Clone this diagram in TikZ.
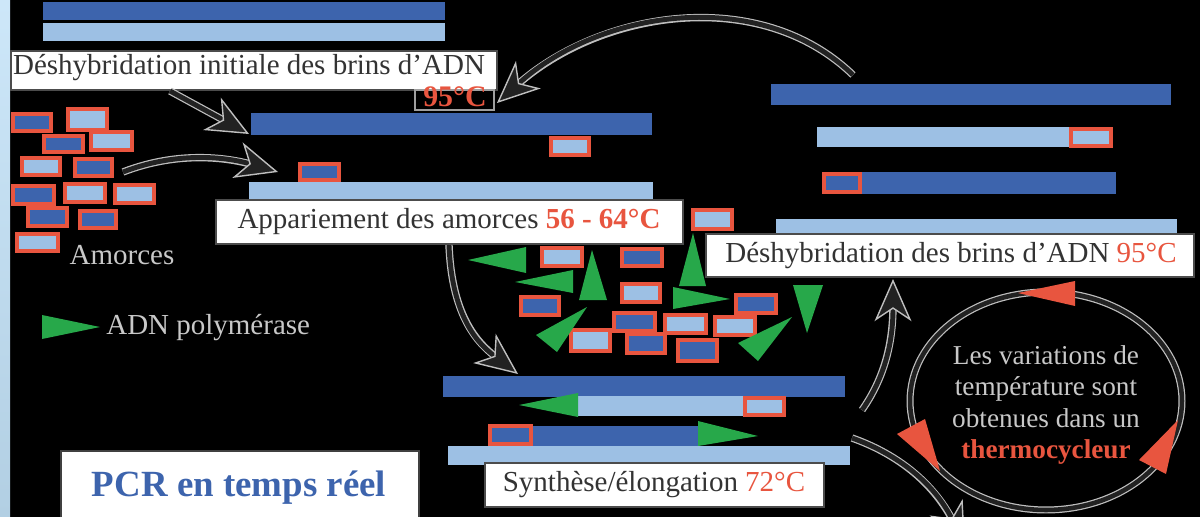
\documentclass[tikz,border=0pt]{standalone}
\usepackage{fontspec}
\setmainfont{Liberation Serif}
\usetikzlibrary{arrows.meta,fit}
\definecolor{dblue}{HTML}{3D64AD}
\definecolor{lblue}{HTML}{9DC0E4}
\definecolor{pred}{HTML}{E8553F}
\definecolor{pgreen}{HTML}{27A84A}
\definecolor{ltxt}{HTML}{333333}
\definecolor{gtxt}{HTML}{C8C8C8}
\definecolor{stripT}{HTML}{CDE7F9}
\definecolor{stripB}{HTML}{B2CFE3}
\definecolor{arrcore}{HTML}{222222}
\newcommand\myprimer[5]{\filldraw[fill=#5, draw=pred, line width=2.5pt] (#1+2.2,#2+2.2) rectangle (#3-2.2,#4-2.2);}
\newcommand\mytri[3]{\fill[pgreen] #1 -- #2 -- #3 -- cycle;}
\begin{document}
\begin{tikzpicture}[x=0.02cm,y=-0.02cm,
  dstrand/.style={fill=dblue, draw=none, inner sep=0pt, outer sep=0pt},
  lstrand/.style={fill=lblue, draw=none, inner sep=0pt, outer sep=0pt},
  labbox/.style={fill=white, draw=black!70, line width=1.4pt, inner sep=0pt},
  labtxt/.style={font=\fontsize{16.5}{19}\selectfont, text=ltxt, inner sep=0pt},
  grtxt/.style={font=\fontsize{16.5}{19}\selectfont, text=gtxt, inner sep=0pt},
  arr/.style={line width=2.8pt, draw=arrcore,
    -{Stealth[length=24pt,width=21pt,inset=7pt,fill=arrcore,color=gray!50,line width=0.8pt]},
    preaction={-, draw=gray!50, line width=4.2pt, shorten >=14pt}},
  redtip/.style={fill=pred, draw=none}
]
\useasboundingbox (0,0) rectangle (1200,517);
\fill[black] (0,0) rectangle (1200,517);
\shade[top color=stripT, bottom color=stripB] (0,0) rectangle (10,517);

% top strands
\node[dstrand, fit={(43,2)(445,20)}] (s0d) {};
\node[lstrand, fit={(43,23)(445,41)}] (s0l) {};

% label 1
\node[labbox, fit={(11,51)(497,90)}] (l1) {};
\node[labtxt] at (249,68) {Déshybridation initiale des brins d'ADN};
\node[fill=black, draw=gray!75, line width=1pt, inner sep=0pt, fit={(415,90)(494,110)}] (t1) {};
\node[font=\fontsize{17}{19}\selectfont\bfseries, text=pred, inner sep=0pt] at (455,97) {95°C};

% strand pair 1
\node[dstrand, fit={(251,113)(652,135)}] (s1d) {};
\myprimer{549}{136}{591}{157}{lblue}
\myprimer{298}{162}{341}{182}{dblue}
\node[lstrand, fit={(249,182)(653,199)}] (s1l) {};

% label 2
\node[labbox, fit={(216,200)(683,244)}] (l2) {};
\node[labtxt] at (449,222) {Appariement des amorces \textcolor{pred}{\bfseries 56 - 64°C}};

% left primers
\myprimer{11}{112}{53}{133}{dblue}
\myprimer{66}{107}{109}{132}{lblue}
\myprimer{89}{130}{134}{152}{lblue}
\myprimer{42}{134}{85}{154}{dblue}
\myprimer{20}{156}{62}{177}{lblue}
\myprimer{73}{157}{114}{178}{dblue}
\myprimer{11}{184}{56}{206}{dblue}
\myprimer{63}{182}{107}{204}{lblue}
\myprimer{113}{183}{156}{205}{lblue}
\myprimer{26}{206}{69}{228}{dblue}
\myprimer{78}{209}{118}{230}{dblue}
\myprimer{15}{232}{60}{253}{lblue}
\node[grtxt] (amo) at (122,255) {Amorces};

% legend polymerase
\mytri{(42,315)}{(42,339)}{(100,327)}
\node[grtxt, anchor=west] (poly) at (106,328) {ADN polymérase};

% top right group
\node[dstrand, fit={(771,84)(1171,105)}] (s2d) {};
\node[lstrand, fit={(817,127)(1069,147)}] (s3l) {};
\myprimer{1069}{127}{1113}{148}{lblue}
\myprimer{822}{172}{862}{194}{dblue}
\node[dstrand, fit={(862,172)(1116,194)}] (s3d) {};
\node[lstrand, fit={(776,219)(1177,236)}] (s2l) {};

% label 3
\node[labbox, fit={(706,234)(1194,277)}] (l3) {};
\node[labtxt] at (951,256) {Déshybridation des brins d'ADN \textcolor{pred}{95°C}};

% middle cluster primers
\myprimer{540}{246}{584}{268}{lblue}
\myprimer{620}{247}{664}{268}{dblue}
\myprimer{691}{208}{734}{231}{lblue}
\myprimer{620}{282}{662}{304}{lblue}
\myprimer{519}{295}{561}{317}{dblue}
\myprimer{612}{311}{657}{333}{dblue}
\myprimer{663}{313}{708}{335}{lblue}
\myprimer{734}{293}{778}{315}{dblue}
\myprimer{713}{315}{757}{337}{lblue}
\myprimer{569}{328}{612}{353}{lblue}
\myprimer{625}{332}{667}{355}{dblue}
\myprimer{676}{338}{719}{363}{dblue}

% middle cluster polymerases
\mytri{(468,260)}{(526,247)}{(526,273)}
\mytri{(515,282)}{(573,270)}{(573,293)}
\mytri{(592,250)}{(579,300)}{(607,300)}
\mytri{(587,307)}{(536,335)}{(557,352)}
\mytri{(693,233)}{(679,286)}{(706,286)}
\mytri{(730,299)}{(673,287)}{(673,309)}
\mytri{(792,317)}{(738,343)}{(758,361)}
\mytri{(807,333)}{(793,285)}{(823,285)}

% bottom group
\node[dstrand, fit={(443,376)(845,397)}] (s4d) {};
\node[lstrand, fit={(578,396)(743,416)}] (s5l) {};
\myprimer{743}{396}{786}{417}{lblue}
\mytri{(519,405)}{(578,393)}{(578,417)}
\myprimer{488}{424}{533}{446}{dblue}
\node[dstrand, fit={(533,426)(698,446)}] (s5d) {};
\mytri{(758,436)}{(698,421)}{(698,446)}
\node[lstrand, fit={(448,446)(850,465)}] (s4l) {};

% label 4
\node[labbox, fit={(485,463)(824,507)}] (l4) {};
\node[labtxt] at (654,485) {Synthèse/élongation \textcolor{pred}{72°C}};

% PCR box
\node[fill=white, draw=black!75, line width=1.4pt, inner sep=0pt, fit={(61,451)(419,530)}] (pcr) {};
\node[font=\fontsize{21}{24}\selectfont\bfseries, text=dblue, inner sep=0pt] at (239,488) {PCR en temps réel};

% thermocycler ellipse
\draw[line width=2.6pt, draw=arrcore, preaction={draw=gray!50, line width=4pt}] (1046,401) ellipse [x radius=2.72cm, y radius=2.18cm];
\node[font=\fontsize{15.5}{18}\selectfont, text=gtxt, align=center, inner sep=0pt] (cyc) at (1046,405)
  {Les variations de\\température sont\\obtenues dans un\\\textcolor{pred}{\bfseries thermocycleur}};
\fill[redtip] (1018,293) -- (1075,281) -- (1075,306) -- cycle;
\fill[redtip] (1178,420) -- (1139,460) -- (1166,474) -- cycle;
\fill[redtip] (940,471) -- (897,434) -- (925,419) -- cycle;

% arrow endpoints
\coordinate (a1s) at (170,91);
\coordinate (a1e) at (249,134);
\coordinate (a2s) at (123,172);
\coordinate (a2e) at (278,172);
\coordinate (a3s) at (853,75);
\coordinate (a3e) at (497,103);
\coordinate (a4s) at (449,245);
\coordinate (a4e) at (518,374);
\coordinate (a5s) at (862,410);
\coordinate (a5e) at (893,279);
\coordinate (a6s) at (852,438);
\coordinate (a6e) at (965,545);

\draw[arr] (a1s) -- (a1e);
\draw[arr] (a2s) .. controls (180,150) and (230,158) .. (a2e);
\draw[arr] (a3s) .. controls (760,-15) and (600,10) .. (a3e);
\draw[arr] (a4s) .. controls (452,320) and (480,345) .. (a4e);
\draw[arr] (a5s) .. controls (890,370) and (893,330) .. (a5e);
\draw[arr] (a6s) .. controls (900,455) and (935,485) .. (a6e);
\end{tikzpicture}
\end{document}
